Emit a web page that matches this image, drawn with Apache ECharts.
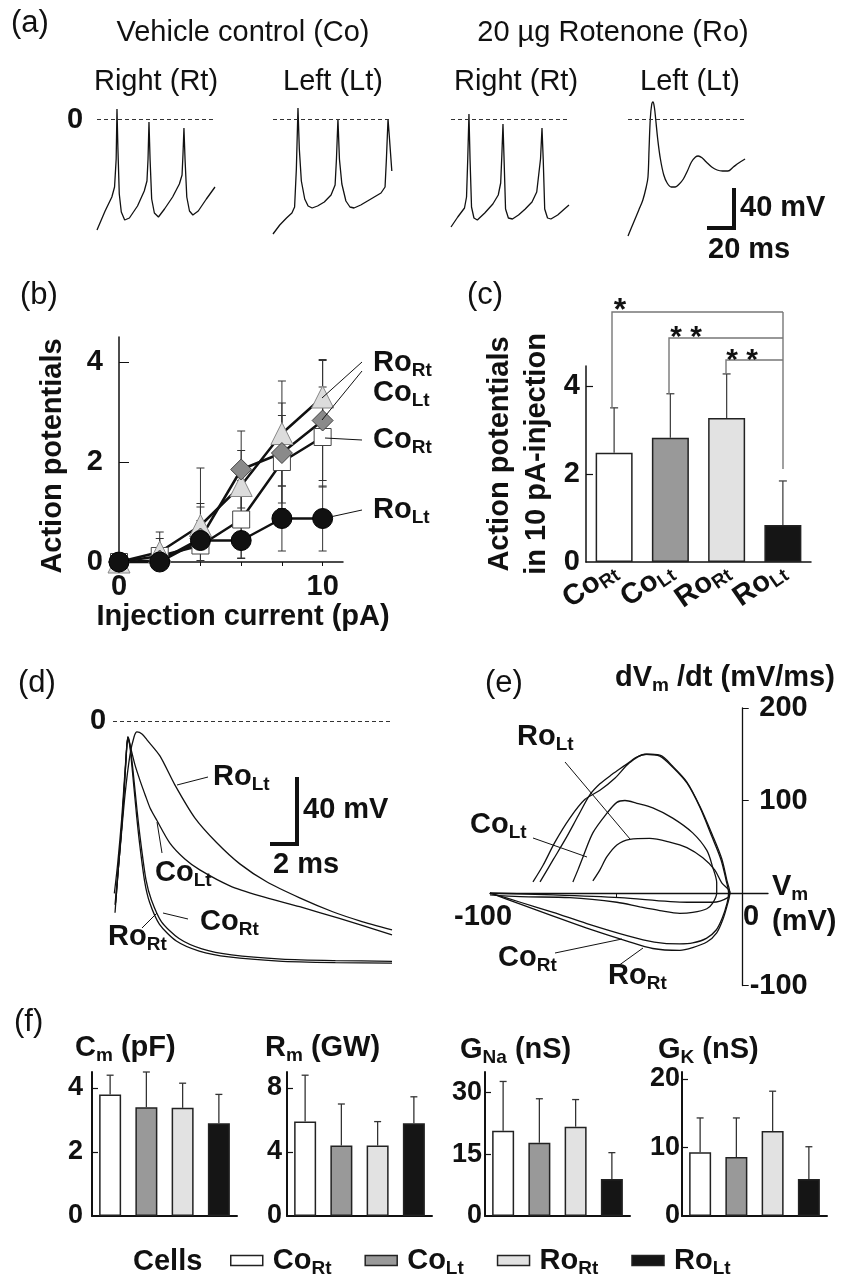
<!DOCTYPE html>
<html>
<head>
<meta charset="utf-8">
<script src="https://cdn.jsdelivr.net/npm/echarts@6/dist/echarts.min.js"></script>
<style>
html, body { margin: 0; padding: 0; background: #fff; }
#chart { width: 843px; height: 1284px; }
</style>
</head>
<body>
<div id="chart"></div>
<script>
var FONT = '"Liberation Sans", Arial, Helvetica, sans-serif';
var INK = '#111';

// (a) spike trains, [time (ms), Vm (mV)]
var spikesCoRt = [[0,-111],[6,-92],[11,-78],[13,-68],[14.2,-40],[14.8,10],[15.5,-30],[16.5,-75],[18,-93],[20.5,-101],[24,-99],[30,-87],[35,-72],[37,-62],[37.8,-40],[38.5,-3],[39.3,-40],[40.5,-80],[42.5,-94],[45.5,-98],[50,-90],[56,-78],[61,-65],[63,-56],[63.7,-35],[64.4,-9],[65.2,-40],[66.5,-78],[68.5,-92],[71,-96],[75,-92],[81,-80],[87.4,-68]];
var spikesCoLt = [[0,-115],[5,-106],[10,-99],[14,-94],[16,-88],[17.3,-50],[18.5,11],[19.5,-30],[21,-62],[23.5,-80],[26,-87],[29,-89],[33,-87],[38,-83],[43,-76],[46,-66],[47,-40],[48.1,0],[49.2,-40],[51,-65],[54,-82],[57,-88],[60,-89],[65,-86],[70,-82],[75,-78],[80,-74],[83,-68],[84,-40],[85.2,0],[86.3,-20],[88,-52]];
var spikesRoRt = [[0,-108],[5,-98],[10,-89],[11.5,-78],[12.4,-40],[13.3,5],[14.1,-40],[15.2,-88],[17,-99],[19.5,-101],[25,-94],[31,-85],[35,-76],[36.8,-64],[37.7,-35],[38.5,-5],[39.3,-40],[40.4,-90],[42.5,-99],[45.5,-100],[50,-96],[55,-90],[60,-83],[63.5,-73],[66.3,-40],[67.4,-9],[68.3,-40],[69.4,-90],[71.5,-99],[74,-100],[79,-96],[84,-90],[87.4,-86]];
var spikesRoLt = [[0,-117],[4,-104],[8,-91],[11,-81],[13.5,-68],[14.8,-58],[15.6,-30],[16.5,0],[17.5,14],[18.5,17],[19.5,12],[20.5,0],[22,-20],[24,-40],[26.5,-56],[29,-64],[32,-68],[35,-68],[38,-65],[41,-60],[44,-52],[47,-43],[50,-38],[52,-37],[55,-39],[58,-43],[62,-48],[66,-51],[70,-52],[74,-52],[78,-48],[82,-44],[86.7,-40]];

// (b) action potentials vs injection current
var injCurrent = [0, 2, 4, 6, 8, 10];
var apCoRt = [0, 0.12, 0.33, 0.85, 2.0, 2.5];
var apCoRtSd = [0, 0.35, 0.77, 0.78, 0.93, 1.0];
var apRoRt = [0, 0.2, 0.73, 1.53, 2.57, 3.3];
var apRoRtSd = [0, 0.4, 1.15, 0.7, 1.05, 0.75];
var apCoLt = [0, 0.03, 0.47, 1.85, 2.18, 2.83];
var apCoLtSd = [0, 0.1, 0.7, 0.77, 1.0, 1.2];
var apRoLt = [0, 0, 0.43, 0.43, 0.87, 0.87];
var apRoLtSd = [0, 0, 0.4, 0.35, 0.65, 0.65];

// (c) APs at 10 pA
var groupNames = ['Co_Rt', 'Co_Lt', 'Ro_Rt', 'Ro_Lt'];
var ap10Mean = [2.48, 2.82, 3.27, 0.84];
var ap10Sd = [1.02, 1.0, 1.0, 1.0];

// (d) averaged AP shapes, [time (ms), Vm (mV)]
var shapeCoRt = [[0.15,-114.6],[0.37,-90.7],[0.67,-60.9],[0.96,-23.3],[1.11,-9.6],[1.26,-14.3],[1.48,-29.3],[1.78,-53.1],[2.05,-72],[2.45,-95],[2.85,-107],[3.6,-120],[4.9,-130],[6.6,-136.2],[8.8,-139.8],[12.5,-142.3],[16.5,-143.2],[20.7,-143.6]];
var shapeRoRt = [[0.2,-108.6],[0.4,-88],[0.68,-60],[0.96,-24],[1.1,-10],[1.24,-14.5],[1.44,-30],[1.72,-54],[1.97,-73],[2.35,-96],[2.72,-108.5],[3.45,-121.5],[4.7,-131.5],[6.4,-137.5],[8.6,-141],[12.3,-143.5],[16.5,-144.4],[20.7,-144.7]];
var shapeCoLt = [[0.1,-103],[0.35,-85],[0.65,-58],[0.95,-23],[1.1,-9.5],[1.26,-14.3],[1.63,-26.3],[2.0,-35.5],[2.4,-44.5],[2.75,-52],[3.26,-59.5],[4.22,-73],[5.33,-82.5],[6.44,-89],[8.67,-98.5],[10.9,-104.5],[13.85,-111],[16.8,-118],[20.7,-127.8]];
var shapeRoLt = [[0.15,-109.9],[0.52,-77],[0.89,-44.2],[1.26,-20.3],[1.56,-9.6],[1.78,-6.6],[2.15,-7.8],[2.52,-11.3],[3.48,-20.9],[4.59,-38.2],[6.07,-57.9],[7.7,-72.8],[9.41,-85.4],[11.4,-96.1],[13.85,-105.7],[16.3,-114],[18.3,-119.4],[20.7,-124.8]];

// (e) phase plots, [Vm (mV), dVm/dt (mV/ms)]
var loopCoRt = [[-80.2,12],[-75,36],[-70,59],[-65,84],[-60.5,106],[-56.5,118],[-51.8,128],[-46.6,138],[-41.9,147],[-38,150],[-32.8,148],[-27.7,136],[-22.1,119],[-17,93],[-12.2,61],[-8.6,36],[-6.6,14],[-5.6,0],[-6.2,-11],[-8.1,-27],[-10.5,-40],[-14.4,-49],[-19.8,-54],[-25,-55],[-35,-53],[-45.8,-46],[-61.7,-33],[-75,-21],[-88,-10],[-100,0]];
var loopRoRt = [[-83,12],[-79,30],[-74.3,55],[-68.4,81],[-62.5,101],[-56.5,111],[-50.6,124],[-44.7,141],[-38.7,150],[-32.8,149],[-27.7,137],[-22.1,120],[-17,94],[-11.9,62],[-8.3,37],[-6.3,14],[-5.1,0],[-5.9,-11],[-7.9,-29],[-10.3,-43],[-14.2,-53],[-19.8,-59],[-24.9,-62],[-35.6,-60],[-45.8,-52],[-61.7,-38],[-75,-25],[-88,-12],[-100,0]];
var loopCoLt = [[-67.2,12],[-65.2,25],[-63.2,39],[-59.3,65],[-53.8,86],[-49.8,98],[-46.6,100],[-41.9,97],[-35.6,92],[-27.7,81],[-19.8,65],[-14.2,46],[-11.9,28],[-10.3,11],[-10.3,0],[-11.9,-11],[-14.2,-17],[-19.8,-21],[-24.9,-22],[-32.8,-19],[-40.7,-15],[-49.8,-10],[-68.4,-5],[-88.1,-4],[-100,-2]];
var loopRoLt = [[-59.3,13],[-56.5,25],[-53.8,39],[-49.8,52],[-44.7,58],[-36.8,59],[-28.9,55],[-22.1,49],[-15.8,38],[-11.1,25],[-8.3,11],[-5.1,1],[-5.9,-5],[-11.9,-10],[-22,-10],[-48.6,-5],[-75,-2],[-100,0]];
var phaseVTicks = [-100];
var phaseDvTicks = [-100, 100, 200];

// (f) passive / active properties
var cmMean = [3.8, 3.4, 3.38, 2.9];
var cmSd = [0.6, 1.1, 0.77, 0.9];
var rmMean = [5.9, 4.4, 4.4, 5.8];
var rmSd = [2.9, 2.6, 1.5, 1.65];
var gnaMean = [20.7, 17.8, 21.7, 9.0];
var gnaSd = [12.0, 10.7, 6.6, 6.4];
var gkMean = [9.3, 8.6, 12.4, 5.4];
var gkSd = [5.0, 5.7, 5.8, 4.7];

var groupFill = ['#ffffff', '#999999', '#e2e2e2', '#151515'];

function richSet(main, sub, drop) {
  return {
    m: {fontFamily: FONT, fontWeight: 'bold', fontSize: main, color: INK, fill: INK},
    s: {fontFamily: FONT, fontWeight: 'bold', fontSize: sub, color: INK, fill: INK, padding: [drop, 0, 0, 0]}
  };
}
function groupLabel(name) {
  var p = name.split('_');
  return '{m|' + p[0] + '}{s|' + p[1] + '}';
}
function label(x, y, text, o) {
  o = o || {};
  return {
    type: 'text', x: x, y: y, rotation: o.rot || 0, silent: true, z: 100,
    style: {
      text: text, fill: INK, fontFamily: FONT,
      fontSize: o.size || 29, fontWeight: o.weight || 'bold',
      align: o.align || 'left', verticalAlign: 'middle',
      rich: o.rich
    }
  };
}
function tag(x, y, name) {
  return label(x, y, groupLabel(name), {rich: richSet(29, 19, 16)});
}
function stroke(points, w, color) {
  return {type: 'polyline', silent: true, z: 100, shape: {points: points},
    style: {stroke: color || INK, lineWidth: w || 1, fill: null}};
}

var grids = [];
var xAxes = [];
var yAxes = [];
var series = [];
var dashedZero = {silent: true, symbol: 'none', label: {show: false},
  lineStyle: {type: [4, 3], color: '#333', width: 1}, data: [{yAxis: 0}]};

// ---- (a)
var aLeft = [97, 273, 451, 628];
[spikesCoRt, spikesCoLt, spikesRoRt, spikesRoLt].forEach(function (tr, i) {
  grids.push({left: aLeft[i], top: 99, width: 118, height: 140});
  xAxes.push({type: 'value', gridIndex: i, min: 0, max: 87.4, show: false});
  yAxes.push({type: 'value', gridIndex: i, min: -120, max: 20, show: false});
  series.push({type: 'line', xAxisIndex: i, yAxisIndex: i, data: tr, showSymbol: false, clip: false,
    smooth: i === 3 ? 0.35 : false, lineStyle: {color: INK, width: 1.3}, markLine: dashedZero, silent: true});
});

function boldLabel(extra) {
  var o = {fontFamily: FONT, fontWeight: 'bold', color: INK, fontSize: 29};
  for (var k in extra) o[k] = extra[k];
  return o;
}

// ---- (b) grid 4
grids.push({left: 119, top: 337, width: 224, height: 225});
xAxes.push({type: 'value', gridIndex: 4, min: 0, max: 11,
  axisLine: {show: true, onZero: false, lineStyle: {color: INK, width: 1.5}},
  axisTick: {show: true, customValues: [2, 4, 6, 8, 10], length: 4, lineStyle: {color: INK}},
  axisLabel: boldLabel({customValues: [0, 10], margin: 10}),
  splitLine: {show: false}});
yAxes.push({type: 'value', gridIndex: 4, min: 0, max: 4.5,
  axisLine: {show: true, lineStyle: {color: INK, width: 1.5}},
  axisTick: {show: true, inside: true, customValues: [2, 4], length: 10, lineStyle: {color: INK}},
  axisLabel: boldLabel({customValues: [0, 2, 4], margin: 16}),
  splitLine: {show: false}});

function errorBars(gi, pts, capHalf, color, width, upOnly) {
  return {
    type: 'custom', xAxisIndex: gi, yAxisIndex: gi, z: upOnly ? 4 : 1, silent: true, clip: false,
    encode: {x: 0, y: 1},
    data: pts,
    renderItem: function (params, api) {
      var x = api.value(0), m = api.value(1), s = api.value(2);
      if (!s) return null;
      var hi = api.coord([x, m + s]);
      var lo = api.coord([x, upOnly ? m : Math.max(0, m - s)]);
      var st = {stroke: color, lineWidth: width};
      var kids = [
        {type: 'line', shape: {x1: hi[0], y1: hi[1], x2: lo[0], y2: lo[1]}, style: st},
        {type: 'line', shape: {x1: hi[0] - capHalf, y1: hi[1], x2: hi[0] + capHalf, y2: hi[1]}, style: st}
      ];
      if (!upOnly && m - s > 0) {
        kids.push({type: 'line', shape: {x1: lo[0] - capHalf, y1: lo[1], x2: lo[0] + capHalf, y2: lo[1]}, style: st});
      }
      return {type: 'group', children: kids};
    }
  };
}

var bSets = [
  {name: 'b Co_Rt', y: apCoRt, sd: apCoRtSd, symbol: 'rect', size: 17, fill: '#ffffff', border: '#444'},
  {name: 'b Ro_Rt', y: apRoRt, sd: apRoRtSd, symbol: 'triangle', size: 22, fill: '#dcdcdc', border: '#888'},
  {name: 'b Co_Lt', y: apCoLt, sd: apCoLtSd, symbol: 'diamond', size: 21, fill: '#8a8a8a', border: '#444'},
  {name: 'b Ro_Lt', y: apRoLt, sd: apRoLtSd, symbol: 'circle', size: 20, fill: '#111111', border: '#000'}
];
bSets.forEach(function (s) {
  series.push(errorBars(4, injCurrent.map(function (x, i) { return [x, s.y[i], s.sd[i]]; }), 4, '#333', 1, false));
});
bSets.forEach(function (s) {
  series.push({name: s.name, type: 'line', xAxisIndex: 4, yAxisIndex: 4, clip: false, silent: true,
    data: injCurrent.map(function (x, i) { return [x, s.y[i]]; }),
    symbol: s.symbol, symbolSize: s.size, showAllSymbol: true,
    lineStyle: {color: INK, width: 2.5},
    itemStyle: {color: s.fill, borderColor: s.border, borderWidth: 1}});
});

// ---- bar panels: (c) grid 5, (f) grids 8-11
function barPanel(gi, means, sds, barW, capHalf, errColor) {
  groupNames.forEach(function (name, g) {
    series.push({name: name, type: 'bar', xAxisIndex: gi, yAxisIndex: gi, barWidth: barW, barGap: '-100%', silent: true,
      data: means.map(function (v, i) { return i === g ? v : '-'; }),
      itemStyle: {color: groupFill[g], borderColor: '#222', borderWidth: 1.5}});
  });
  series.push(errorBars(gi, means.map(function (v, i) { return [i, v, sds[i]]; }), capHalf, errColor, 1.3, true));
}
function valueAxis(gi, max, ticks, margin, size, lw, tickLen) {
  return {type: 'value', gridIndex: gi, min: 0, max: max,
    axisLine: {show: true, lineStyle: {color: INK, width: lw}},
    axisTick: {show: true, inside: true, customValues: ticks.slice(1), length: tickLen, lineStyle: {color: INK, width: 1.2}},
    axisLabel: boldLabel({customValues: ticks, margin: margin, fontSize: size}),
    splitLine: {show: false}};
}

grids.push({left: 586, top: 366, width: 225, height: 196});
xAxes.push({type: 'category', gridIndex: 5, data: groupNames,
  axisLine: {show: true, lineStyle: {color: INK, width: 1.5}},
  axisTick: {show: false},
  axisLabel: {interval: 0, rotate: 35, margin: 6, formatter: groupLabel, rich: richSet(29, 19, 14)}});
yAxes.push(valueAxis(5, 4.45, [0, 2, 4], 6, 29, 1.5, 7));
barPanel(5, ap10Mean, ap10Sd, 37, 4, '#444');

// ---- (d) grid 6
grids.push({left: 113, top: 700, width: 279, height: 272});
xAxes.push({type: 'value', gridIndex: 6, min: 0, max: 20.7, show: false});
yAxes.push({type: 'value', gridIndex: 6, min: -150, max: 12.5, show: false});
[shapeCoRt, shapeRoRt, shapeCoLt, shapeRoLt].forEach(function (tr, i) {
  var s = {type: 'line', xAxisIndex: 6, yAxisIndex: 6, data: tr, showSymbol: false, clip: false, silent: true,
    smooth: 0.25, lineStyle: {color: INK, width: 1.3}};
  if (i === 0) s.markLine = dashedZero;
  series.push(s);
});

// ---- (e) grid 7 (axes cross at 0; tick labels placed from the axes below)
grids.push({left: 490, top: 708, width: 278, height: 277.5});
xAxes.push({type: 'value', gridIndex: 7, min: -100, max: 10,
  axisLine: {show: true, onZero: true, lineStyle: {color: INK, width: 1.3}},
  axisTick: {show: true, customValues: [-50], length: 5, lineStyle: {color: INK}},
  axisLabel: {show: false},
  splitLine: {show: false}});
yAxes.push({type: 'value', gridIndex: 7, min: -100, max: 200,
  axisLine: {show: true, onZero: true, lineStyle: {color: INK, width: 1.3}},
  axisTick: {show: true, inside: true, customValues: phaseDvTicks, length: 6, lineStyle: {color: INK}},
  axisLabel: {show: false},
  splitLine: {show: false}});
[loopCoRt, loopRoRt, loopCoLt, loopRoLt].forEach(function (tr) {
  series.push({type: 'line', xAxisIndex: 7, yAxisIndex: 7, data: tr, showSymbol: false, clip: false, silent: true,
    smooth: 0.3, lineStyle: {color: INK, width: 1.3}});
});

// ---- (f) grids 8-11
var fLeft = [92, 287, 485, 682];
var fMax = [4.5, 9, 35, 21];
var fTicks = [[0, 2, 4], [0, 4, 8], [0, 15, 30], [0, 10, 20]];
var fMargin = [9, 5, 3, 2];
[[cmMean, cmSd], [rmMean, rmSd], [gnaMean, gnaSd], [gkMean, gkSd]].forEach(function (d, k) {
  var gi = 8 + k;
  grids.push({left: fLeft[k], top: 1072, width: 145, height: 144});
  xAxes.push({type: 'category', gridIndex: gi, data: groupNames,
    axisLine: {show: true, lineStyle: {color: INK, width: 2}},
    axisTick: {show: false}, axisLabel: {show: false}});
  yAxes.push(valueAxis(gi, fMax[k], fTicks[k], fMargin[k], 27, 2, 6));
  barPanel(gi, d[0], d[1], 22, 3.5, '#333');
});

// ---- annotations
var rot = Math.PI / 2;
var graphic = [
  label(11, 23, '(a)', {weight: 'normal', size: 31}),
  label(20, 295, '(b)', {weight: 'normal', size: 31}),
  label(467, 295, '(c)', {weight: 'normal', size: 31}),
  label(18, 683, '(d)', {weight: 'normal', size: 31}),
  label(485, 683, '(e)', {weight: 'normal', size: 31}),
  label(14, 1022, '(f)', {weight: 'normal', size: 31}),

  label(243, 33, 'Vehicle control (Co)', {weight: 'normal', size: 29, align: 'center'}),
  label(613, 33, '20 µg Rotenone (Ro)', {weight: 'normal', size: 29, align: 'center'}),
  label(156, 82, 'Right (Rt)', {weight: 'normal', size: 29, align: 'center'}),
  label(333, 82, 'Left (Lt)', {weight: 'normal', size: 29, align: 'center'}),
  label(516, 82, 'Right (Rt)', {weight: 'normal', size: 29, align: 'center'}),
  label(690, 82, 'Left (Lt)', {weight: 'normal', size: 29, align: 'center'}),
  label(75, 120, '0', {align: 'center'}),
  stroke([[734, 188], [734, 228], [707, 228]], 4),
  label(740, 208, '40 mV'),
  label(708, 250, '20 ms'),

  label(53, 456, 'Action potentials', {rot: rot, align: 'center'}),
  label(243, 617, 'Injection current (pA)', {align: 'center'}),
  tag(373, 363, 'Ro_Rt'), tag(373, 393, 'Co_Lt'), tag(373, 440, 'Co_Rt'), tag(373, 510, 'Ro_Lt'),
  stroke([[362, 362], [322, 398]]), stroke([[362, 371], [322, 420]]),
  stroke([[362, 440], [325, 438]]), stroke([[362, 510], [330, 517]]),

  label(500, 454, 'Action potentials', {rot: rot, align: 'center'}),
  label(537, 454, 'in 10 pA-injection', {rot: rot, align: 'center'}),
  stroke([[612, 408], [612, 312], [783, 312]], 1.4, '#777'),
  stroke([[669, 394], [669, 338], [783, 338]], 1.4, '#777'),
  stroke([[726, 374], [726, 360], [783, 360]], 1.4, '#777'),
  stroke([[783, 312], [783, 469]], 1.4, '#777'),
  label(620, 311, '*', {align: 'center', size: 32}),
  label(686, 338, '* *', {align: 'center', size: 30}),
  label(742, 361, '* *', {align: 'center', size: 30}),

  label(98, 721, '0', {align: 'center'}),
  stroke([[297, 777], [297, 844], [270, 844]], 4),
  label(303, 810, '40 mV'),
  label(273, 865, '2 ms'),
  tag(213, 777, 'Ro_Lt'), tag(155, 873, 'Co_Lt'), tag(200, 922, 'Co_Rt'), tag(108, 937, 'Ro_Rt'),
  stroke([[177, 785], [208, 777]]), stroke([[162, 853], [157, 822]]),
  stroke([[188, 919], [163, 913]]), stroke([[142, 928], [157, 913]]),

  label(615, 678, '{m|dV}{s|m}{m| /dt (mV/ms)}', {rich: richSet(29, 19, 16)}),
  label(772, 887, '{m|V}{s|m}', {rich: richSet(29, 19, 16)}),
  label(772, 922, '(mV)'),
  label(751, 917, '0', {align: 'center'}),
  tag(517, 737, 'Ro_Lt'), tag(470, 825, 'Co_Lt'), tag(498, 958, 'Co_Rt'), tag(608, 976, 'Ro_Rt'),
  stroke([[565, 762], [630, 839]]), stroke([[533, 838], [587, 857]]),
  stroke([[555, 953], [622, 939]]), stroke([[618, 966], [643, 948]]),

  label(75, 1048, '{m|C}{s|m}{m| (pF)}', {rich: richSet(29, 19, 16)}),
  label(265, 1048, '{m|R}{s|m}{m| (GW)}', {rich: richSet(29, 19, 16)}),
  label(460, 1050, '{m|G}{s|Na}{m| (nS)}', {rich: richSet(29, 19, 16)}),
  label(658, 1050, '{m|G}{s|K}{m| (nS)}', {rich: richSet(29, 19, 16)}),
  label(133, 1262, 'Cells')
];

var option = {
  animation: false,
  backgroundColor: '#ffffff',
  textStyle: {fontFamily: FONT},
  grid: grids,
  xAxis: xAxes,
  yAxis: yAxes,
  legend: {
    data: groupNames, left: 225, top: 1241, itemWidth: 32, itemHeight: 10, itemGap: 33,
    selectedMode: false, icon: 'rect',
    itemStyle: {borderColor: '#222', borderWidth: 1.5},
    formatter: groupLabel,
    textStyle: {padding: [0, 0, 0, 5], rich: richSet(29, 19, 16)}
  },
  series: series,
  graphic: graphic
};

var chart = echarts.init(document.getElementById('chart'));
chart.setOption(option);

// (e) tick labels follow the crossed axes, so place them from the axis scale
var extra = [];
phaseDvTicks.forEach(function (v) {
  var p = chart.convertToPixel({xAxisIndex: 7, yAxisIndex: 7}, [0, v]);
  extra.push(label(p[0] + 65, p[1], String(v), {align: 'right'}));
});
phaseVTicks.forEach(function (v) {
  var p = chart.convertToPixel({xAxisIndex: 7, yAxisIndex: 7}, [v, 0]);
  extra.push(label(p[0] - 7, p[1] + 24, String(v), {align: 'center'}));
});
chart.setOption({graphic: graphic.concat(extra)});
</script>
</body>
</html>
